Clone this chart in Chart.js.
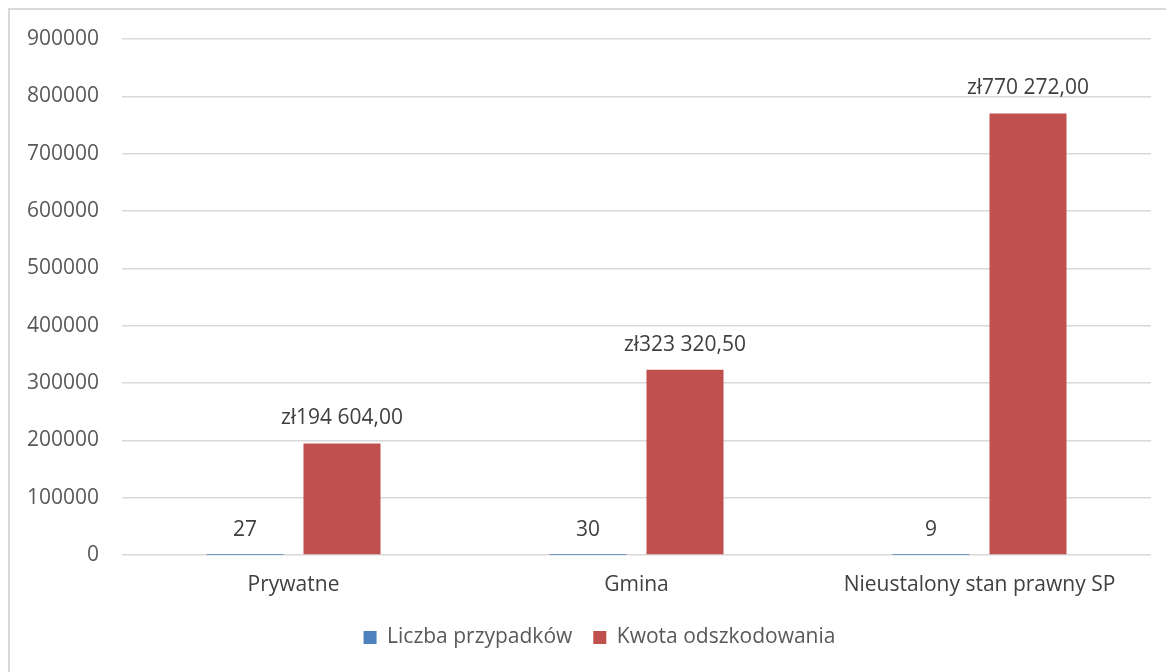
<!DOCTYPE html>
<html lang="pl">
<head>
<meta charset="utf-8">
<title>Liczba przypadków i kwota odszkodowania</title>
<script src="https://cdn.jsdelivr.net/npm/chart.js@4/dist/chart.umd.min.js"></script>
<style>
  html, body { margin: 0; padding: 0; background: #ffffff; }
  #frame {
    position: absolute; left: 8px; top: 8px; width: 1400px; height: 900px;
    border-left: 2px solid #d9d9d9; border-top: 2px solid #d9d9d9;
    box-sizing: border-box;
  }
  #wrap { position: absolute; left: 0; top: 0; width: 1166px; height: 672px; }
</style>
</head>
<body>
<div id="frame"></div>
<div id="wrap"><canvas id="chart" width="1166" height="672"></canvas></div>
<script>
// Categories and series
const categories = ['Prywatne', 'Gmina', 'Nieustalony stan prawny SP'];
const liczbaPrzypadkow = [27, 30, 9];
const kwotaOdszkodowania = [194604.00, 323320.50, 770272.00];
const yTicks = [0, 100000, 200000, 300000, 400000, 500000, 600000, 700000, 800000, 900000];

const FONT = '"Open Sans", "DejaVu Sans", sans-serif';
const TEXT = '#595959';
const LABEL_TEXT = '#404040';

function formatZl(v) {
  const parts = v.toFixed(2).split('.');
  const intPart = parts[0].replace(/\B(?=(\d{3})+(?!\d))/g, ' ');
  return 'zł' + intPart + ',' + parts[1];
}

// Value labels drawn above each bar
const valueLabels = {
  id: 'valueLabels',
  afterDatasetsDraw(chart) {
    const ctx = chart.ctx;
    ctx.save();
    ctx.font = '21px ' + FONT;
    ctx.fillStyle = LABEL_TEXT;
    ctx.textAlign = 'center';
    ctx.textBaseline = 'middle';
    chart.data.datasets.forEach((ds, di) => {
      const meta = chart.getDatasetMeta(di);
      meta.data.forEach((bar, i) => {
        const v = ds.data[i];
        const text = ds.labelFormat ? ds.labelFormat(v) : String(v);
        ctx.fillText(text, bar.x, bar.y - 25);
      });
    });
    ctx.restore();
  }
};

// Centre the legend under the plot area rather than the whole canvas
const legendShift = {
  id: 'legendShift',
  afterLayout(chart) {
    if (chart.legend) {
      chart.legend.left += 24;
      chart.legend.right += 24;
    }
  }
};

new Chart(document.getElementById('chart'), {
  type: 'bar',
  data: {
    labels: categories,
    datasets: [
      {
        label: 'Liczba przypadków',
        data: liczbaPrzypadkow,
        backgroundColor: '#4f81bd',
        categoryPercentage: 0.5656,
        barPercentage: 0.794
      },
      {
        label: 'Kwota odszkodowania',
        data: kwotaOdszkodowania,
        backgroundColor: '#c0504d',
        categoryPercentage: 0.5656,
        barPercentage: 0.794,
        labelFormat: formatZl
      }
    ]
  },
  options: {
    responsive: false,
    animation: false,
    devicePixelRatio: 1,
    layout: { padding: { top: 39, right: 15, bottom: 14, left: 0 } },
    plugins: {
      tooltip: { enabled: false },
      legend: {
        position: 'bottom',
        labels: {
          font: { family: FONT, size: 21 },
          color: TEXT,
          boxWidth: 13,
          boxHeight: 13,
          padding: 21
        }
      }
    },
    scales: {
      x: {
        grid: { display: false, drawTicks: false },
        border: { display: false },
        ticks: {
          font: { family: FONT, size: 21 },
          color: LABEL_TEXT,
          padding: 17,
          maxRotation: 0,
          autoSkip: false
        },
        afterFit(scale) { scale.height = 51; }
      },
      y: {
        min: 0,
        max: 900000,
        afterBuildTicks(scale) { scale.ticks = yTicks.map(v => ({ value: v })); },
        grid: { color: '#d9d9d9', lineWidth: 1.5, drawTicks: false },
        border: { display: false },
        ticks: {
          font: { family: FONT, size: 21 },
          color: TEXT,
          padding: 23,
          callback: v => String(v)
        },
        afterFit(scale) { scale.width = 122; }
      }
    }
  },
  plugins: [valueLabels, legendShift]
});
</script>
</body>
</html>
